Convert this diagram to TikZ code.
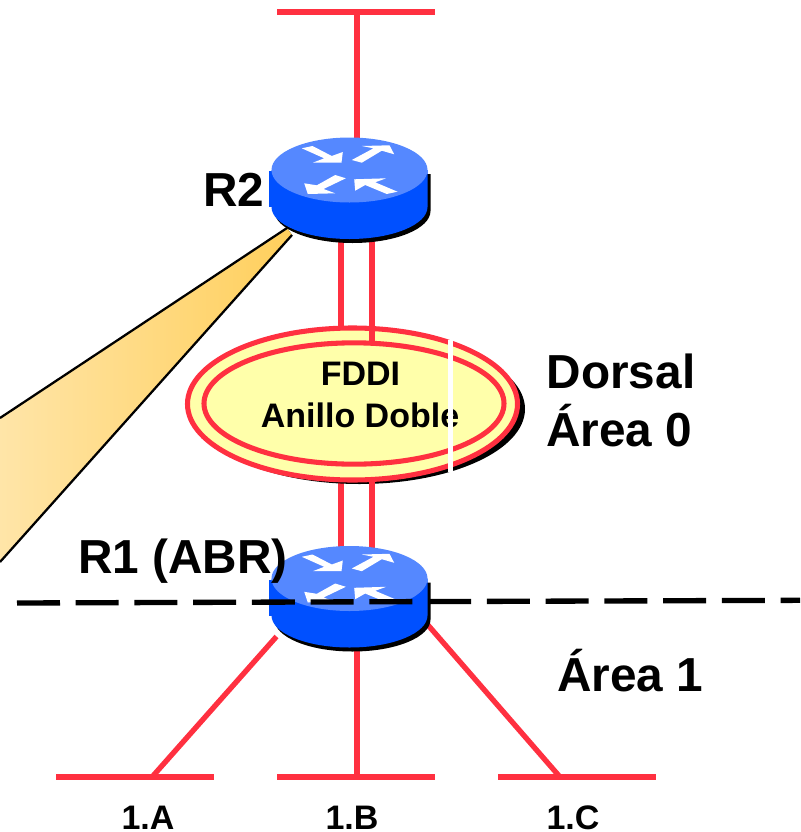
\documentclass[tikz,border=0pt]{standalone}
\usepackage{fontspec}
\setmainfont{Liberation Sans}
\usepackage{tikz}
\usetikzlibrary{calc}
\usetikzlibrary{shapes.geometric}
\usetikzlibrary{backgrounds}

\definecolor{wirered}{HTML}{FF3040}
\definecolor{ringyellow}{HTML}{FFFFAA}
\definecolor{routertop}{HTML}{5588FF}
\definecolor{routerbody}{HTML}{0050FF}
\definecolor{beamfar}{HTML}{FFE5A8}
\definecolor{beamnear}{HTML}{FFCF5C}

\tikzset{
  wire/.style={draw=wirered, line width=4.4pt},
  thinwire/.style={draw=wirered, line width=4pt},
  lan/.style={fill=wirered, inner sep=0pt, minimum width=118.5pt, minimum height=4.4pt},
  ring/.style={ellipse, draw=wirered, line width=3.8pt, fill=ringyellow, inner sep=0pt},
  biglabel/.style={font=\fontsize{35.8}{40}\selectfont\bfseries, inner sep=0pt, anchor=base west},
  smalllabel/.style={font=\fontsize{25.5}{30}\selectfont\bfseries, inner sep=0pt, anchor=base},
  routerarrow/.style={fill=white},
  router/.pic={
    \fill[routerbody] (-81,1) rectangle (-70,37);
    \fill[black] (-75,4) -- (-75,41) arc[start angle=180, end angle=0, x radius=78, y radius=32] -- (81,4) -- cycle;
    \fill[routerbody] (-78,0) -- (-78,37) arc[start angle=180, end angle=0, x radius=78, y radius=32] -- (78,0) -- cycle;
    \fill[routertop] (0,0) ellipse [x radius=78, y radius=32.5];
    \fill[routerarrow] (-47.7,-21.7) -- (-37,-24) -- (-17.7,-14) -- (-6.7,-18) -- (-8,-7.3) -- (-36.7,-7.3) -- (-25.3,-11.7) -- cycle;
    \fill[routerarrow] (2.3,-10) -- (24,-21.7) -- (12.3,-24) -- (40,-24.7) -- (44.7,-15.7) -- (32.3,-19.3) -- (12.3,-7.3) -- cycle;
    \fill[routerarrow] (-45.3,13.3) -- (-41.7,24) -- (-14.3,23.3) -- (-26,19) -- (-3.7,8.3) -- (-14.3,5) -- (-32.7,15.3) -- cycle;
    \fill[routerarrow] (4.7,9.3) -- (36.7,8.3) -- (25.7,12.3) -- (48,21.7) -- (37.3,24) -- (15.7,15) -- (5.7,20.7) -- cycle;
  }
}

\begin{document}
\begin{tikzpicture}[x=.75pt, y=-.75pt]
  \useasboundingbox (0,0) rectangle (800,832);

  \coordinate (r2) at (349.5,170);
  \coordinate (r1) at (349.5,578.5);

  \node[lan] (lantop) at (356,12) {};
  \node[lan] (lana) at (135,777) {};
  \node[lan] (lanb) at (356,777) {};
  \node[lan] (lanc) at (577,777) {};

  % beam towards the left
  \fill[left color=beamfar, right color=beamnear]
    (287,228) -- (0,418) -- (0,562) -- (292,235) -- cycle;
  \draw[line width=1.7pt] (287,228) -- (0,418);
  \draw[line width=1.7pt] (292,235) -- (0,562);

  \draw[wire] ($(lantop.center)+(1,0)$) -- ($(r2)+(7.5,0)$);
  \draw[wire] ($(lanb.center)+(1,0)$) -- ($(r1)+(7.5,50)$);
  \draw[thinwire] ($(lana.center)+(17,0)$) -- ($(r1)+(-73,58)$);
  \draw[thinwire] ($(lanc.center)+(-17,0)$) -- ($(r1)+(78,46)$);

  \begin{scope}[on background layer]
    \draw[wire] ($(r2)+(-8.5,0)$) -- ($(r1)+(-8.5,0)$);
  \end{scope}

  % double ring
  \fill[black] (359.5,409) ellipse [x radius=165.5, y radius=75];
  \node[ring, minimum width=247.5pt, minimum height=114pt] (ringout) at (352.5,404) {};
  \draw[wire] ($(r2)+(22.5,0)$) -- ($(ringout.center)+(19.5,0)$);
  \draw[wire] ($(r1)+(22.5,0)$) -- ($(ringout.south)+(19.5,-6)$);
  \node[ring, minimum width=225pt, minimum height=91pt] (ringin) at (354,403.5) {};
  \node[smalllabel] (fddi) at (360.5,385) {FDDI};
  \node[smalllabel] (anillo) at (360,427) {Anillo Doble};
  \fill[white] (448,340) rectangle (453,472);

  \pic at (r2) {router};
  \pic at (r1) {router};

  \node[biglabel] (labelr2) at (203,206) {R2};
  \node[biglabel] (labelr1) at (78,573) {R1 (ABR)};
  \node[biglabel] (dorsal) at (546.5,388) {Dorsal};
  \node[biglabel] (area0) at (546,446) {Área 0};
  \node[biglabel] (area1) at (557,691) {Área 1};

  \node[smalllabel] (labela) at (148,829.5) {1.A};
  \node[smalllabel] (labelb) at (352,829.5) {1.B};
  \node[smalllabel] (labelc) at (573,829.5) {1.C};

  \coordinate (cutleft) at (17,603);
  \coordinate (cutright) at (800,600.3);
  \draw[line width=4pt, dash pattern=on 32.25pt off 11.8pt] (cutleft) -- (cutright);
\end{tikzpicture}
\end{document}
